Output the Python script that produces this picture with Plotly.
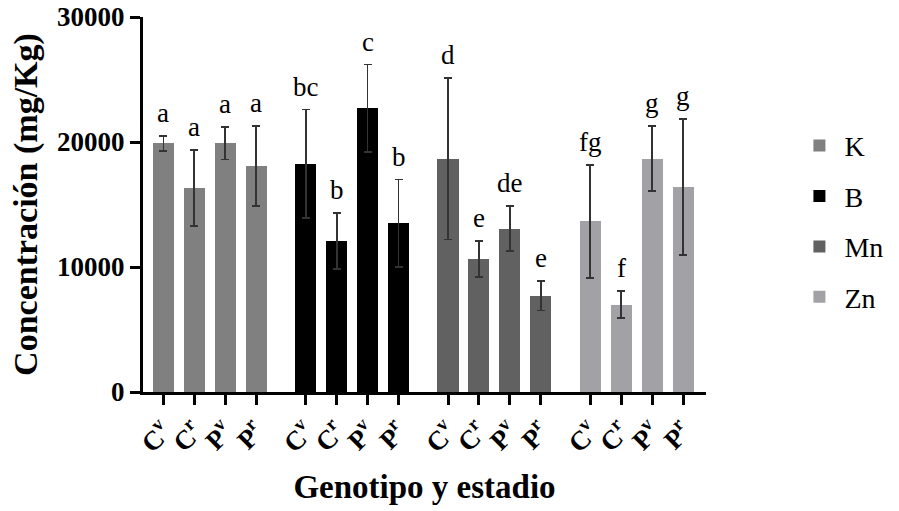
import plotly.graph_objects as go

elements = ["K", "B", "Mn", "Zn"]
stages = ["C<sup>v</sup>", "C<sup>r</sup>", "P<sup>v</sup>", "P<sup>r</sup>"]
colors = ["#808080", "#000000", "#616161", "#a2a2a6"]

means = {
    "K":  [19900, 16300, 19900, 18100],
    "B":  [18250, 12100, 22700, 13500],
    "Mn": [18650, 10650, 13050, 7700],
    "Zn": [13650, 6980, 18650, 16400],
}
errs = {
    "K":  [600, 3050, 1300, 3200],
    "B":  [4350, 2250, 3500, 3500],
    "Mn": [6450, 1450, 1800, 1180],
    "Zn": [4500, 1080, 2600, 5450],
}
letters = {
    "K":  ["a", "a", "a", "a"],
    "B":  ["bc", "b", "c", "b"],
    "Mn": ["d", "e", "de", "e"],
    "Zn": ["fg", "f", "g", "g"],
}
y_ticks = [0, 10000, 20000, 30000]

group_step = 4.6
FONT = "Times New Roman, Liberation Serif, DejaVu Serif, serif"

fig = go.Figure()
tickvals, ticktext = [], []
annotations = []
for g, el in enumerate(elements):
    xs = [g * group_step + i for i in range(4)]
    tickvals += xs
    ticktext += ["<b>" + s + "</b>" for s in stages]
    fig.add_trace(go.Bar(
        x=xs, y=means[el], name=el, width=0.68,
        marker=dict(color=colors[g], line=dict(width=0)),
        error_y=dict(type="data", array=errs[el], visible=True,
                     color="#333333", thickness=1.8, width=4),
        legendgroup=el,
    ))
    for x, m, e, t in zip(xs, means[el], errs[el], letters[el]):
        annotations.append(dict(
            x=x, y=m + e, text=t, showarrow=False, xref="x", yref="y",
            yanchor="bottom", yshift=6,
            font=dict(family=FONT, size=27, color="#000000"),
        ))

fig.update_layout(
    width=899, height=511,
    margin=dict(l=143, r=192, t=17, b=119),
    plot_bgcolor="white", paper_bgcolor="white",
    font=dict(family=FONT, color="black"),
    showlegend=True,
    legend=dict(
        x=1.155, y=0.455, xanchor="left", yanchor="middle",
        font=dict(family=FONT, size=28, color="#000000"),
        tracegroupgap=11, itemwidth=40,
    ),
    annotations=annotations,
    bargap=0,
)
fig.update_xaxes(
    range=[-0.66, 17.54], tickvals=tickvals, ticktext=ticktext,
    tickangle=-45, ticks="outside", ticklen=10, tickwidth=3, tickcolor="black",
    showline=True, linecolor="black", linewidth=3, showgrid=False, zeroline=False,
    tickfont=dict(family=FONT, size=27, color="black"),
    automargin=False,
    title=dict(text="<b>Genotipo y estadio</b>", font=dict(family=FONT, size=33, color="black"),
               standoff=18),
)
fig.update_yaxes(
    range=[0, 30000], tickvals=y_ticks, ticktext=["<b>%d</b>" % v for v in y_ticks],
    ticks="outside", ticklen=10, tickwidth=3, tickcolor="black",
    showline=True, linecolor="black", linewidth=3, showgrid=False, zeroline=False,
    tickfont=dict(family=FONT, size=27, color="black"),
    automargin=False,
    title=dict(text="<b>Concentración (mg/Kg)</b>", font=dict(family=FONT, size=34, color="black"),
               standoff=10),
)

fig.write_html("out.html", config={"displayModeBar": False},
               post_script="document.body.style.margin='0';")
